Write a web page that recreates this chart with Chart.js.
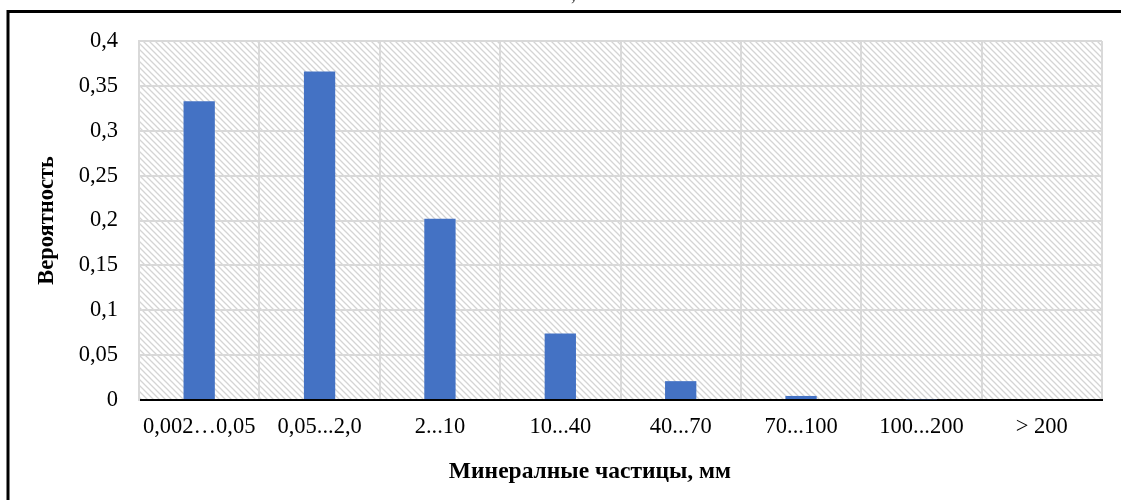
<!DOCTYPE html>
<html>
<head>
<meta charset="utf-8">
<script src="https://cdn.jsdelivr.net/npm/chart.js@4.4.1/dist/chart.umd.min.js"></script>
<style>
  html, body { margin: 0; padding: 0; background: #ffffff; }
  #wrap { width: 1121px; height: 500px; position: relative; }
</style>
</head>
<body>
<div id="wrap"><canvas id="chart" width="1121" height="500"></canvas></div>
<script>
// Size classes of mineral particles, mm
const categories = ['0,002…0,05', '0,05...2,0', '2...10', '10...40', '40...70', '70...100', '100...200', '> 200'];
// Probability of each size class
const probabilities = [0.333, 0.366, 0.202, 0.074, 0.021, 0.0045, 0.0008, 0];
// Value axis range
const yMin = 0;
const yMax = 0.4;
const yStep = 0.05;
// Axis titles
const xTitle = 'Минералные частицы, мм';
const yTitle = 'Вероятность';

const serif = '"Liberation Serif", "Times New Roman", serif';

// Light diagonal hatch used as the plot background
function makeHatch(ctx) {
  const c = document.createElement('canvas');
  c.width = 6; c.height = 6;
  const g = c.getContext('2d');
  g.fillStyle = '#ffffff';
  g.fillRect(0, 0, 6, 6);
  g.strokeStyle = '#d4d4d4';
  g.lineWidth = 1.3;
  g.beginPath();
  g.moveTo(-1, -1); g.lineTo(7, 7);
  g.moveTo(-1, 5); g.lineTo(1, 7);
  g.moveTo(5, -1); g.lineTo(7, 1);
  g.stroke();
  return ctx.createPattern(c, 'repeat');
}

const framePlugin = {
  id: 'frame',
  beforeDraw(chart) {
    const { ctx, chartArea: a } = chart;
    ctx.save();
    ctx.fillStyle = '#ffffff';
    ctx.fillRect(0, 0, chart.width, chart.height);
    ctx.fillStyle = makeHatch(ctx);
    ctx.fillRect(a.left, a.top, a.right - a.left, a.bottom - a.top);
    ctx.restore();
  },
  afterDraw(chart) {
    const { ctx } = chart;
    ctx.save();
    // outer frame (top and left edges)
    ctx.strokeStyle = '#000000';
    ctx.lineWidth = 3;
    ctx.beginPath();
    ctx.moveTo(chart.width, 11.5);
    ctx.lineTo(8, 11.5);
    ctx.lineTo(8, chart.height);
    ctx.stroke();
    // tail of the caption above the frame
    ctx.fillStyle = '#333333';
    ctx.font = '20px ' + serif;
    ctx.textBaseline = 'alphabetic';
    ctx.fillText(',', 571, 0);
    // category axis title, centred under the whole figure
    ctx.fillStyle = '#000000';
    ctx.font = 'bold 23.5px ' + serif;
    ctx.textAlign = 'center';
    ctx.textBaseline = 'middle';
    ctx.fillText(xTitle, 590, 472);
    ctx.restore();
  }
};

new Chart(document.getElementById('chart'), {
  type: 'bar',
  data: {
    labels: categories,
    datasets: [{
      data: probabilities,
      backgroundColor: '#4472C4',
      borderWidth: 0,
      categoryPercentage: 1,
      barPercentage: 0.26
    }]
  },
  options: {
    responsive: false,
    animation: false,
    devicePixelRatio: 1,
    layout: { padding: { top: 41, right: 19, left: 0, bottom: 0 } },
    plugins: { legend: { display: false }, tooltip: { enabled: false } },
    scales: {
      x: {
        grid: { offset: true, color: '#d9d9d9', lineWidth: 2, drawTicks: false },
        border: { color: '#000000', width: 2 },
        ticks: { color: '#000000', font: { family: serif, size: 22.5 }, padding: 14, maxRotation: 0, autoSkip: false },
        afterFit(scale) { scale.height = 100; }
      },
      y: {
        min: yMin,
        max: yMax,
        grid: { color: '#d9d9d9', lineWidth: 2, drawTicks: false },
        border: { color: '#d9d9d9', width: 2 },
        ticks: {
          stepSize: yStep,
          color: '#000000',
          font: { family: serif, size: 22.5 },
          padding: 21,
          callback: (v) => String(Math.round(v * 100) / 100).replace('.', ',')
        },
        title: {
          display: true,
          text: yTitle,
          color: '#000000',
          font: { family: serif, size: 22.5, weight: 'bold' },
          padding: { top: 34, bottom: 0 }
        },
        afterFit(scale) { scale.width = 139; }
      }
    }
  },
  plugins: [framePlugin]
});
</script>
</body>
</html>
